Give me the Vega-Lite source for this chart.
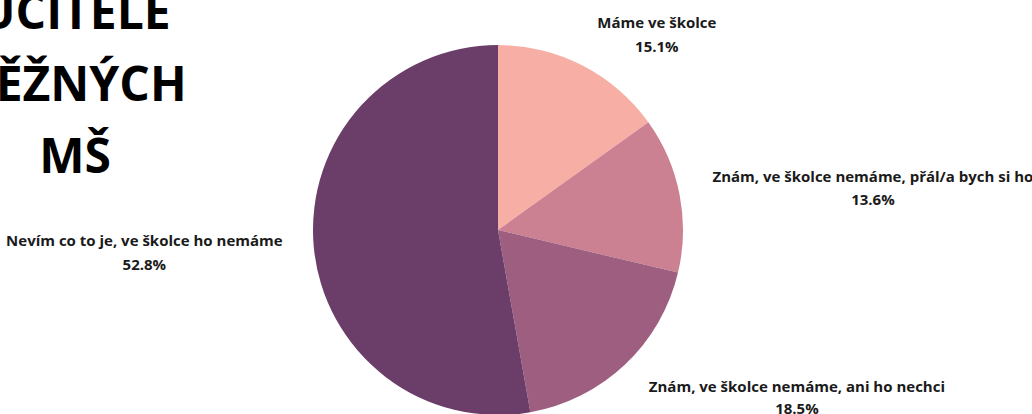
{
  "$schema": "https://vega.github.io/schema/vega-lite/v6.json",
  "width": 996,
  "height": 460,
  "autosize": {"type": "none"},
  "padding": {"left": 0, "top": 0, "right": 36, "bottom": 0},
  "background": "#ffffff",
  "config": {"view": {"stroke": null}, "text": {"font": "Open Sans", "fontWeight": "bold", "fontSize": 15, "color": "#1a1a1a"}},
  "title": {
    "text": ["UČITELÉ", "BĚŽNÝCH", "MŠ"],
    "anchor": "start",
    "frame": "group",
    "align": "center",
    "baseline": "top",
    "dx": 75,
    "offset": -330,
    "fontSize": 48,
    "lineHeight": 72,
    "font": "Open Sans",
    "fontWeight": "bold",
    "color": "#000000"
  },
  "data": {
    "values": [
      {"category": "Máme ve školce", "value": 0.151, "order": 1},
      {"category": "Znám, ve školce nemáme, přál/a bych si ho", "value": 0.136, "order": 2},
      {"category": "Znám, ve školce nemáme, ani ho nechci", "value": 0.185, "order": 3},
      {"category": "Nevím co to je, ve školce ho nemáme", "value": 0.528, "order": 4}
    ]
  },
  "transform": [
    {"calculate": "[datum.category, format(datum.value, '.1%')]", "as": "label"}
  ],
  "encoding": {
    "theta": {"field": "value", "type": "quantitative", "stack": true},
    "order": {"field": "order", "type": "quantitative"}
  },
  "layer": [
    {
      "mark": {"type": "arc", "outerRadius": 185, "stroke": null},
      "encoding": {
        "color": {
          "field": "category",
          "type": "nominal",
          "legend": null,
          "sort": {"field": "order"},
          "scale": {
            "domain": ["Máme ve školce", "Znám, ve školce nemáme, přál/a bych si ho", "Znám, ve školce nemáme, ani ho nechci", "Nevím co to je, ve školce ho nemáme"],
            "range": ["#f7aea5", "#cb8192", "#9e5e80", "#6b3d69"]
          }
        }
      }
    },
    {
      "mark": {"type": "text", "radius": 247, "dx": 46, "dy": 13, "align": "center", "baseline": "middle", "lineHeight": 24},
      "encoding": {"text": {"condition": {"test": "datum.order === 1", "field": "label"}, "value": ""}}
    },
    {
      "mark": {"type": "text", "radius": 375, "dx": 7, "dy": 20, "align": "center", "baseline": "middle", "lineHeight": 23},
      "encoding": {"text": {"condition": {"test": "datum.order === 2", "field": "label"}, "value": ""}}
    },
    {
      "mark": {"type": "text", "radius": 326, "dx": 75, "dy": -80, "align": "center", "baseline": "middle", "lineHeight": 22},
      "encoding": {"text": {"condition": {"test": "datum.order === 3", "field": "label"}, "value": ""}}
    },
    {
      "mark": {"type": "text", "radius": 355, "dx": 0, "dy": -20, "align": "center", "baseline": "middle", "lineHeight": 24},
      "encoding": {"text": {"condition": {"test": "datum.order === 4", "field": "label"}, "value": ""}}
    }
  ]
}
